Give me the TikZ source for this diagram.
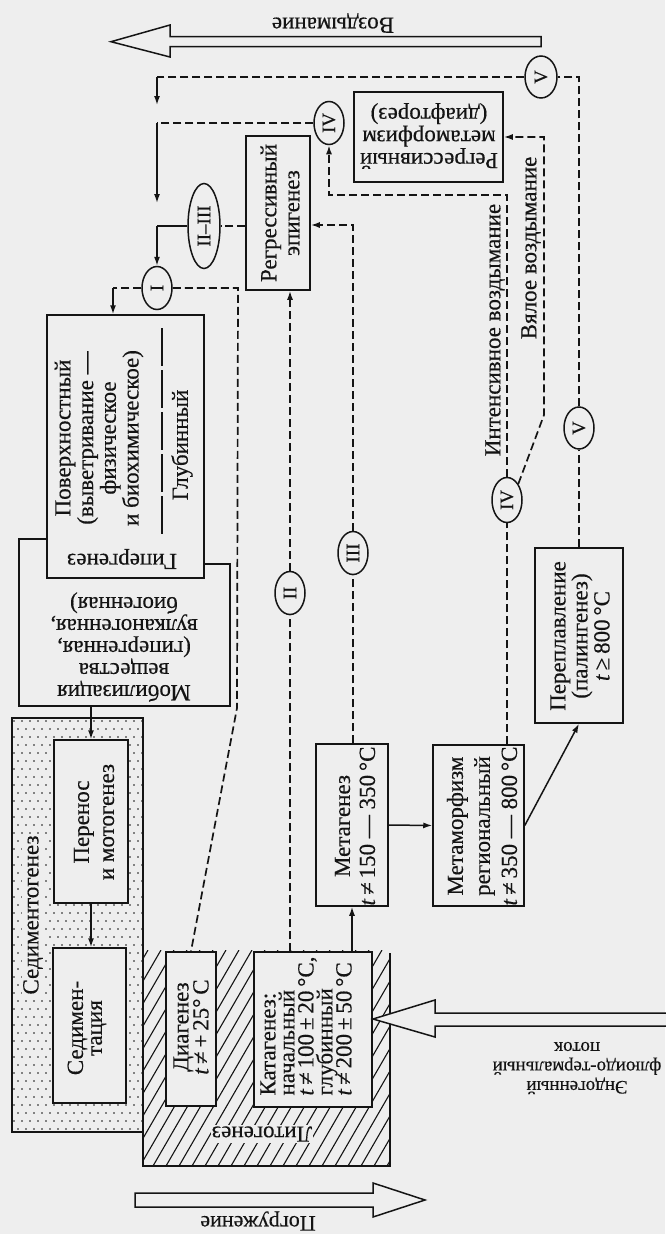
\documentclass[tikz,border=0pt]{standalone}
\usepackage{fontspec}
\setmainfont{Liberation Serif}[FakeBold=0.4]
\usetikzlibrary{arrows.meta,shapes.geometric}
\definecolor{bgc}{gray}{0.935}
\definecolor{ink}{gray}{0.08}
\newcommand{\fs}[2]{\fontsize{#1}{#2}\selectfont\lineskiplimit=-100pt\relax}
\begin{document}
\begin{tikzpicture}[x=1pt,y=-1pt,
  box/.style={draw=ink, fill=bgc, line width=1.5pt, rectangle, inner sep=0pt},
  rtx/.style={rotate=90, align=center, inner sep=0pt, text=ink},
  rtxl/.style={rotate=90, align=left, inner sep=0pt, text=ink},
  utx/.style={rotate=180, align=center, inner sep=0pt, text=ink},
  num/.style={draw=ink, fill=bgc, ellipse, line width=1.5pt, inner sep=0pt,
     minimum width=30pt, minimum height=43pt, font=\fs{19}{19}, text=ink},
  dl/.style={draw=ink, line width=1.7pt, dash pattern=on 8pt off 4pt},
  sl/.style={draw=ink, line width=1.5pt},
  tip/.style={-{Latex[length=9pt,width=6pt]}},
  hollow/.style={draw=ink, fill=bgc, line width=1.5pt, line join=miter},
]
\fill[bgc] (0,0) rectangle (665,1234);
\useasboundingbox (0,0) rectangle (665,1234);

% ---- Mobilization outline and hypergenesis box
\draw[sl] (47,539) -- (19,539) -- (19,706) -- (230,706) -- (230,564) -- (204,564);
\node[box, minimum width=157pt, minimum height=263pt] (pov) at (125.5,446.5) {};

% ---- Sedimentogenesis (dotted)
\fill[bgc] (12,718) rectangle (143,1132);
\begin{scope}
\clip (12,718) rectangle (143,1132);
\foreach \r in {0,...,52}{\foreach \c in {0,...,17}{
  \fill[ink] ({14+8*\c+4*mod(\r,2)},{721+8*\r}) circle (0.9pt);}}
\end{scope}
\draw[sl] (12,718) rectangle (143,1132);

% ---- Lithogenesis (hatched)
\begin{scope}
\clip (143,950) rectangle (390,1166);
\foreach \k in {0,...,30}{\draw[ink, line width=1.1pt] ({10+13*\k},1166) -- ++(125,-216);}
\end{scope}
\draw[sl] (143,1132) -- (143,1166) -- (390,1166) -- (390,953);

% ---- boxes
\node[box, minimum width=64pt, minimum height=154pt] (rege) at (278,213) {};
\node[box, minimum width=149pt, minimum height=90pt] (regm) at (428.5,137) {};
\node[box, minimum width=74pt, minimum height=163pt] (perenos) at (91,821.5) {};
\node[box, minimum width=73pt, minimum height=155pt] (sedim) at (89.5,1025.5) {};
\node[box, minimum width=50pt, minimum height=154pt] (diag) at (191,1029) {};
\node[box, minimum width=118pt, minimum height=155pt] (kata) at (313,1029.5) {};
\node[box, minimum width=72pt, minimum height=162pt] (metag) at (352,825) {};
\node[box, minimum width=91pt, minimum height=161pt] (metam) at (478.5,825.5) {};
\node[box, minimum width=88pt, minimum height=175pt] (perepl) at (579,635.5) {};

% ---- box texts
\node[rtx, font=\fs{23}{23}] (rege-t) at (280,213) {Регрессивный\\эпигенез};
\node[utx, font=\fs{23}{22.5}] (regm-t) at (429,136) {Регрессивный\\метаморфизм\\(диафторез)};
\node[rtx, font=\fs{23}{22.7}] (pov-t) at (99,438) {Поверхностный\\(выветривание —\\физическое\\и биохимическое)};
\node[rtx, font=\fs{23}{23}] (pov-g) at (182,445) {Глубинный};
\draw[ink, line width=1.3pt, dash pattern=on 38pt off 4pt] (162,328) -- (162,537);
\node[utx, font=\fs{23}{23}] (lbl-hyp) at (122,559) {Гипергенез};
\node[utx, font=\fs{23}{22}] (mob-t) at (124,647) {Мобилизация\\вещества\\(гипергенная,\\вулканогенная,\\биогенная)};
\node[rtx, font=\fs{23}{25}] (perenos-t) at (94,822) {Перенос\\и мотогенез};
\node[rtx, font=\fs{23}{19}] (sedim-t) at (87,1028) {Седимен-\\тация};
\node[rtx, font=\fs{23}{20}] (diag-t) at (191,1027) {Диагенез\\\textit{t}\,≠\,+\,25°\,C};
\node[rtxl, font=\fs{23}{19}] (kata-t) at (306,1026) {Катагенез:\\начальный\\\textit{t}\,≠\,100\,±\,20\,°C,\\глубинный\\\textit{t}\,≠\,200\,±\,50\,°C};
\node[rtx, font=\fs{23}{25}] (metag-t) at (355,826) {Метагенез\\\textit{t}\,≠\,150 — 350\,°C};
\node[rtx, font=\fs{23}{27}] (metam-t) at (482,826) {Метаморфизм\\региональный\\\textit{t}\,≠\,350 — 800\,°C};
\node[rtx, font=\fs{23}{22}] (perepl-t) at (580,636) {Переплавление\\(палингенез)\\\textit{t}\,≥\,800\,°C};

\node[utx, font=\fs{23}{23}, fill=bgc, inner sep=1pt] (lbl-lito) at (262,1134) {Литогенез};
\node[rtx, font=\fs{23}{23}, fill=bgc, inner sep=1pt] (lbl-sed) at (33,915) {Седиментогенез};
\node[rtx, font=\fs{23}{23}] (lbl-int) at (495,330) {Интенсивное воздымание};
\node[rtx, font=\fs{23}{23}] (lbl-slow) at (531,248) {Вялое воздымание};

% ---- hollow arrows and their labels
\draw[hollow] (541,36.7) -- (170,36.7) -- (170,25) -- (111,41.7) -- (170,57) -- (170,46.7) -- (541,46.7) -- cycle;
\node[utx, font=\fs{23}{23}] (lbl-up) at (333,23) {Воздымание};
\draw[hollow] (135,1193) -- (373,1193) -- (373,1183) -- (425,1200) -- (373,1217) -- (373,1207) -- (135,1207) -- cycle;
\node[utx, font=\fs{22}{22}] (lbl-down) at (258,1221) {Погружение};
\draw[hollow] (668,1013) -- (435,1013) -- (435,1000) -- (373,1019) -- (435,1037) -- (435,1026) -- (668,1026);
\node[utx, font=\fs{19}{19.5}] (lbl-flow) at (577,1068) {Эндогенный\\флюидо-термальный\\поток};

% ---- stage ellipses
\node[num] (n1) at (157,288) {\rotatebox{90}{I}};
\node[num, minimum width=32pt, minimum height=85pt] (n23) at (204,226) {\rotatebox{90}{II–III}};
\node[num] (n2) at (290,593) {\rotatebox{90}{II}};
\node[num] (n3) at (353,553) {\rotatebox{90}{III}};
\node[num] (n4a) at (329,123) {\rotatebox{90}{IV}};
\node[num, minimum height=45pt] (n4b) at (507,500) {\rotatebox{90}{IV}};
\node[num, minimum width=32pt, minimum height=42pt] (n5a) at (541,77) {\rotatebox{90}{V}};
\node[num, minimum height=42pt] (n5b) at (579,428) {\rotatebox{90}{V}};

% ---- coordinates
\coordinate (c5v) at (157,77);
\coordinate (c5e) at (157,105);
\coordinate (c4v) at (157,123);
\coordinate (c4e) at (157,203);
\coordinate (c4i) at (507,195);
\coordinate (c4s) at (544,415);
\coordinate (c3) at (353,225);
\coordinate (c23) at (157,226);
\coordinate (c1l) at (113,288);
\coordinate (c1r) at (238,288);
\coordinate (c1d) at (237,708);
\coordinate (mobb) at (91,706);

% ---- connectors
\draw[dl] (perepl.north -| n5b) -- (n5b.south);
\draw[dl] (n5b.north) -- (n5b |- n5a) -- (n5a.east);
\draw[dl] (n5a.west) -- (c5v);
\draw[sl,tip] (c5v) -- (c5e);
\draw[dl] (n4a.west) -- (c4v);
\draw[sl,tip] (c4v) -- (c4e);
\draw[dl] (metam.north -| n4b) -- (n4b.south);
\draw[dl,tip] (n4b.north) -- (c4i) -- (c4i -| n4a) -- (n4a.south);
\draw[dl,tip] (n4b.55) -- (c4s) -- (c4s |- regm.east) -- (regm.east);
\draw[dl] (metag.north -| n3) -- (n3.south);
\draw[dl,tip] (n3.north) -- (c3) -- (c3 -| rege.east);
\draw[dl] (kata.north -| n2) -- (n2.south);
\draw[dl,tip] (n2.north) -- (n2 |- rege.south);
\draw[dl] (rege.west |- n23) -- (n23.east);
\draw[sl] (n23.west) -- (c23);
\draw[sl,tip] (c23) -- (n1.north);
\draw[dl] (n1.west) -- (c1l);
\draw[sl,tip] (c1l) -- (c1l |- pov.north);
\draw[dl] (n1.east) -- (c1r) -- (c1d) -- (diag.north);
\draw[sl,tip] (metag.east) -- (metam.west);
\draw[sl,tip] (kata.north -| metag) -- (metag.south);
\draw[sl,tip] (metam.east) -- (perepl.south);
\draw[sl,tip] (mobb) -- (perenos.north);
\draw[sl,tip] (perenos.south) -- (perenos.south |- sedim.north);
\end{tikzpicture}
\end{document}
